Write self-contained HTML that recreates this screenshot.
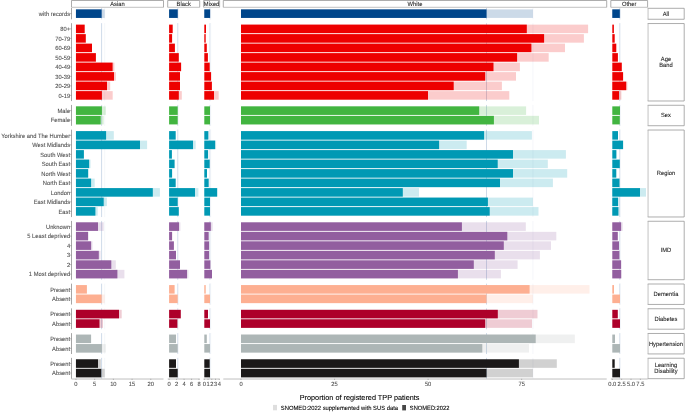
<!DOCTYPE html>
<html><head><meta charset="utf-8"><style>
html,body{margin:0;padding:0;background:#fff;}
svg{display:block;text-rendering:geometricPrecision;}
text{font-family:"Liberation Sans",Arial,sans-serif;fill:#4D4D4D;stroke:#4D4D4D;stroke-width:0.8px;}
</style></head><body>
<svg width="685" height="412" viewBox="0 0 685 412">
<rect width="685" height="412" fill="#fff"/>
<line x1="101.6" y1="7.95" x2="101.6" y2="19.35" stroke="#C2D0E2" stroke-width="0.8"/>
<line x1="104.7" y1="7.95" x2="104.7" y2="19.35" stroke="#F2F5F9" stroke-width="0.8"/>
<rect x="75.95" y="9.38" width="28.75" height="8.55" fill="#00468B" fill-opacity="0.2"/>
<rect x="75.95" y="9.38" width="25.65" height="8.55" fill="#00468B"/>
<line x1="101.6" y1="23.19" x2="101.6" y2="101.09" stroke="#C2D0E2" stroke-width="0.8"/>
<line x1="104.7" y1="23.19" x2="104.7" y2="101.09" stroke="#F2F5F9" stroke-width="0.8"/>
<rect x="75.95" y="24.62" width="8.75" height="8.55" fill="#ED0000"/>
<rect x="75.95" y="34.12" width="9.85" height="8.55" fill="#ED0000"/>
<rect x="75.95" y="43.62" width="16.05" height="8.55" fill="#ED0000"/>
<rect x="75.95" y="53.12" width="19.95" height="8.55" fill="#ED0000"/>
<rect x="75.95" y="62.62" width="38.45" height="8.55" fill="#ED0000" fill-opacity="0.2"/>
<rect x="75.95" y="62.62" width="36.65" height="8.55" fill="#ED0000"/>
<rect x="75.95" y="72.12" width="39.95" height="8.55" fill="#ED0000" fill-opacity="0.2"/>
<rect x="75.95" y="72.12" width="38.05" height="8.55" fill="#ED0000"/>
<rect x="75.95" y="81.62" width="34.25" height="8.55" fill="#ED0000" fill-opacity="0.2"/>
<rect x="75.95" y="81.62" width="31.05" height="8.55" fill="#ED0000"/>
<rect x="75.95" y="91.12" width="36.75" height="8.55" fill="#ED0000" fill-opacity="0.2"/>
<rect x="75.95" y="91.12" width="25.95" height="8.55" fill="#ED0000"/>
<line x1="101.6" y1="104.93" x2="101.6" y2="125.83" stroke="#C2D0E2" stroke-width="0.8"/>
<line x1="104.7" y1="104.93" x2="104.7" y2="125.83" stroke="#F2F5F9" stroke-width="0.8"/>
<rect x="75.95" y="106.36" width="29.85" height="8.55" fill="#42B540" fill-opacity="0.2"/>
<rect x="75.95" y="106.36" width="25.95" height="8.55" fill="#42B540"/>
<rect x="75.95" y="115.86" width="27.75" height="8.55" fill="#42B540" fill-opacity="0.2"/>
<rect x="75.95" y="115.86" width="24.75" height="8.55" fill="#42B540"/>
<line x1="101.6" y1="129.67" x2="101.6" y2="217.07" stroke="#C2D0E2" stroke-width="0.8"/>
<line x1="104.7" y1="129.67" x2="104.7" y2="217.07" stroke="#F2F5F9" stroke-width="0.8"/>
<rect x="75.95" y="131.10" width="37.85" height="8.55" fill="#0099B4" fill-opacity="0.2"/>
<rect x="75.95" y="131.10" width="30.15" height="8.55" fill="#0099B4"/>
<rect x="75.95" y="140.60" width="71.15" height="8.55" fill="#0099B4" fill-opacity="0.2"/>
<rect x="75.95" y="140.60" width="64.05" height="8.55" fill="#0099B4"/>
<rect x="75.95" y="150.10" width="7.95" height="8.55" fill="#0099B4"/>
<rect x="75.95" y="159.60" width="14.55" height="8.55" fill="#0099B4" fill-opacity="0.2"/>
<rect x="75.95" y="159.60" width="13.15" height="8.55" fill="#0099B4"/>
<rect x="75.95" y="169.10" width="13.05" height="8.55" fill="#0099B4" fill-opacity="0.2"/>
<rect x="75.95" y="169.10" width="12.05" height="8.55" fill="#0099B4"/>
<rect x="75.95" y="178.60" width="18.75" height="8.55" fill="#0099B4" fill-opacity="0.2"/>
<rect x="75.95" y="178.60" width="15.15" height="8.55" fill="#0099B4"/>
<rect x="75.95" y="188.10" width="83.95" height="8.55" fill="#0099B4" fill-opacity="0.2"/>
<rect x="75.95" y="188.10" width="76.85" height="8.55" fill="#0099B4"/>
<rect x="75.95" y="197.60" width="30.95" height="8.55" fill="#0099B4" fill-opacity="0.2"/>
<rect x="75.95" y="197.60" width="27.75" height="8.55" fill="#0099B4"/>
<rect x="75.95" y="207.10" width="21.75" height="8.55" fill="#0099B4" fill-opacity="0.2"/>
<rect x="75.95" y="207.10" width="19.45" height="8.55" fill="#0099B4"/>
<line x1="101.6" y1="220.91" x2="101.6" y2="279.81" stroke="#C2D0E2" stroke-width="0.8"/>
<line x1="104.7" y1="220.91" x2="104.7" y2="279.81" stroke="#F2F5F9" stroke-width="0.8"/>
<rect x="75.95" y="222.33" width="27.75" height="8.55" fill="#925E9F" fill-opacity="0.2"/>
<rect x="75.95" y="222.33" width="22.05" height="8.55" fill="#925E9F"/>
<rect x="75.95" y="231.83" width="12.75" height="8.55" fill="#925E9F" fill-opacity="0.2"/>
<rect x="75.95" y="231.83" width="12.05" height="8.55" fill="#925E9F"/>
<rect x="75.95" y="241.33" width="16.55" height="8.55" fill="#925E9F" fill-opacity="0.2"/>
<rect x="75.95" y="241.33" width="15.15" height="8.55" fill="#925E9F"/>
<rect x="75.95" y="250.83" width="24.55" height="8.55" fill="#925E9F" fill-opacity="0.2"/>
<rect x="75.95" y="250.83" width="22.85" height="8.55" fill="#925E9F"/>
<rect x="75.95" y="260.33" width="39.85" height="8.55" fill="#925E9F" fill-opacity="0.2"/>
<rect x="75.95" y="260.33" width="35.35" height="8.55" fill="#925E9F"/>
<rect x="75.95" y="269.83" width="48.45" height="8.55" fill="#925E9F" fill-opacity="0.2"/>
<rect x="75.95" y="269.83" width="41.45" height="8.55" fill="#925E9F"/>
<line x1="101.6" y1="283.65" x2="101.6" y2="304.55" stroke="#C2D0E2" stroke-width="0.8"/>
<line x1="104.7" y1="283.65" x2="104.7" y2="304.55" stroke="#F2F5F9" stroke-width="0.8"/>
<rect x="75.95" y="285.07" width="10.95" height="8.55" fill="#FDAF91"/>
<rect x="75.95" y="294.57" width="28.75" height="8.55" fill="#FDAF91" fill-opacity="0.2"/>
<rect x="75.95" y="294.57" width="25.65" height="8.55" fill="#FDAF91"/>
<line x1="101.6" y1="308.39" x2="101.6" y2="329.29" stroke="#C2D0E2" stroke-width="0.8"/>
<line x1="104.7" y1="308.39" x2="104.7" y2="329.29" stroke="#F2F5F9" stroke-width="0.8"/>
<rect x="75.95" y="309.81" width="45.75" height="8.55" fill="#AD002A" fill-opacity="0.2"/>
<rect x="75.95" y="309.81" width="43.05" height="8.55" fill="#AD002A"/>
<rect x="75.95" y="319.31" width="27.05" height="8.55" fill="#AD002A" fill-opacity="0.2"/>
<rect x="75.95" y="319.31" width="23.55" height="8.55" fill="#AD002A"/>
<line x1="101.6" y1="333.13" x2="101.6" y2="354.03" stroke="#C2D0E2" stroke-width="0.8"/>
<line x1="104.7" y1="333.13" x2="104.7" y2="354.03" stroke="#F2F5F9" stroke-width="0.8"/>
<rect x="75.95" y="334.55" width="15.15" height="8.55" fill="#ADB6B6"/>
<rect x="75.95" y="344.05" width="29.85" height="8.55" fill="#ADB6B6" fill-opacity="0.2"/>
<rect x="75.95" y="344.05" width="25.95" height="8.55" fill="#ADB6B6"/>
<line x1="101.6" y1="357.87" x2="101.6" y2="378.77" stroke="#C2D0E2" stroke-width="0.8"/>
<line x1="104.7" y1="357.87" x2="104.7" y2="378.77" stroke="#F2F5F9" stroke-width="0.8"/>
<rect x="75.95" y="359.29" width="24.85" height="8.55" fill="#1B1919" fill-opacity="0.2"/>
<rect x="75.95" y="359.29" width="22.05" height="8.55" fill="#1B1919"/>
<rect x="75.95" y="368.79" width="28.75" height="8.55" fill="#1B1919" fill-opacity="0.2"/>
<rect x="75.95" y="368.79" width="25.25" height="8.55" fill="#1B1919"/>
<line x1="177.7" y1="7.95" x2="177.7" y2="19.35" stroke="#C2D0E2" stroke-width="0.8"/>
<line x1="178.1" y1="7.95" x2="178.1" y2="19.35" stroke="#F2F5F9" stroke-width="0.8"/>
<rect x="169.1" y="9.38" width="9.00" height="8.55" fill="#00468B" fill-opacity="0.2"/>
<rect x="169.1" y="9.38" width="8.60" height="8.55" fill="#00468B"/>
<line x1="177.7" y1="23.19" x2="177.7" y2="101.09" stroke="#C2D0E2" stroke-width="0.8"/>
<line x1="178.1" y1="23.19" x2="178.1" y2="101.09" stroke="#F2F5F9" stroke-width="0.8"/>
<rect x="169.1" y="24.62" width="3.60" height="8.55" fill="#ED0000"/>
<rect x="169.1" y="34.12" width="3.00" height="8.55" fill="#ED0000"/>
<rect x="169.1" y="43.62" width="5.80" height="8.55" fill="#ED0000"/>
<rect x="169.1" y="53.12" width="9.70" height="8.55" fill="#ED0000"/>
<rect x="169.1" y="62.62" width="12.50" height="8.55" fill="#ED0000" fill-opacity="0.2"/>
<rect x="169.1" y="62.62" width="11.90" height="8.55" fill="#ED0000"/>
<rect x="169.1" y="72.12" width="10.90" height="8.55" fill="#ED0000"/>
<rect x="169.1" y="81.62" width="10.90" height="8.55" fill="#ED0000"/>
<rect x="169.1" y="91.12" width="12.70" height="8.55" fill="#ED0000" fill-opacity="0.2"/>
<rect x="169.1" y="91.12" width="9.70" height="8.55" fill="#ED0000"/>
<line x1="177.7" y1="104.93" x2="177.7" y2="125.83" stroke="#C2D0E2" stroke-width="0.8"/>
<line x1="178.1" y1="104.93" x2="178.1" y2="125.83" stroke="#F2F5F9" stroke-width="0.8"/>
<rect x="169.1" y="106.36" width="8.60" height="8.55" fill="#42B540"/>
<rect x="169.1" y="115.86" width="8.60" height="8.55" fill="#42B540"/>
<line x1="177.7" y1="129.67" x2="177.7" y2="217.07" stroke="#C2D0E2" stroke-width="0.8"/>
<line x1="178.1" y1="129.67" x2="178.1" y2="217.07" stroke="#F2F5F9" stroke-width="0.8"/>
<rect x="169.1" y="131.10" width="6.60" height="8.55" fill="#0099B4"/>
<rect x="169.1" y="140.60" width="26.60" height="8.55" fill="#0099B4" fill-opacity="0.2"/>
<rect x="169.1" y="140.60" width="23.90" height="8.55" fill="#0099B4"/>
<rect x="169.1" y="150.10" width="2.80" height="8.55" fill="#0099B4"/>
<rect x="169.1" y="159.60" width="5.50" height="8.55" fill="#0099B4"/>
<rect x="169.1" y="169.10" width="3.00" height="8.55" fill="#0099B4"/>
<rect x="169.1" y="178.60" width="6.60" height="8.55" fill="#0099B4"/>
<rect x="169.1" y="188.10" width="29.30" height="8.55" fill="#0099B4" fill-opacity="0.2"/>
<rect x="169.1" y="188.10" width="25.90" height="8.55" fill="#0099B4"/>
<rect x="169.1" y="197.60" width="8.60" height="8.55" fill="#0099B4"/>
<rect x="169.1" y="207.10" width="9.70" height="8.55" fill="#0099B4"/>
<line x1="177.7" y1="220.91" x2="177.7" y2="279.81" stroke="#C2D0E2" stroke-width="0.8"/>
<line x1="178.1" y1="220.91" x2="178.1" y2="279.81" stroke="#F2F5F9" stroke-width="0.8"/>
<rect x="169.1" y="222.33" width="11.30" height="8.55" fill="#925E9F" fill-opacity="0.2"/>
<rect x="169.1" y="222.33" width="9.90" height="8.55" fill="#925E9F"/>
<rect x="169.1" y="231.83" width="3.00" height="8.55" fill="#925E9F"/>
<rect x="169.1" y="241.33" width="4.80" height="8.55" fill="#925E9F"/>
<rect x="169.1" y="250.83" width="6.90" height="8.55" fill="#925E9F"/>
<rect x="169.1" y="260.33" width="10.90" height="8.55" fill="#925E9F"/>
<rect x="169.1" y="269.83" width="19.30" height="8.55" fill="#925E9F" fill-opacity="0.2"/>
<rect x="169.1" y="269.83" width="17.90" height="8.55" fill="#925E9F"/>
<line x1="177.7" y1="283.65" x2="177.7" y2="304.55" stroke="#C2D0E2" stroke-width="0.8"/>
<line x1="178.1" y1="283.65" x2="178.1" y2="304.55" stroke="#F2F5F9" stroke-width="0.8"/>
<rect x="169.1" y="285.07" width="5.50" height="8.55" fill="#FDAF91"/>
<rect x="169.1" y="294.57" width="8.60" height="8.55" fill="#FDAF91"/>
<line x1="177.7" y1="308.39" x2="177.7" y2="329.29" stroke="#C2D0E2" stroke-width="0.8"/>
<line x1="178.1" y1="308.39" x2="178.1" y2="329.29" stroke="#F2F5F9" stroke-width="0.8"/>
<rect x="169.1" y="309.81" width="11.70" height="8.55" fill="#AD002A"/>
<rect x="169.1" y="319.31" width="8.30" height="8.55" fill="#AD002A"/>
<line x1="177.7" y1="333.13" x2="177.7" y2="354.03" stroke="#C2D0E2" stroke-width="0.8"/>
<line x1="178.1" y1="333.13" x2="178.1" y2="354.03" stroke="#F2F5F9" stroke-width="0.8"/>
<rect x="169.1" y="334.55" width="6.90" height="8.55" fill="#ADB6B6"/>
<rect x="169.1" y="344.05" width="8.60" height="8.55" fill="#ADB6B6"/>
<line x1="177.7" y1="357.87" x2="177.7" y2="378.77" stroke="#C2D0E2" stroke-width="0.8"/>
<line x1="178.1" y1="357.87" x2="178.1" y2="378.77" stroke="#F2F5F9" stroke-width="0.8"/>
<rect x="169.1" y="359.29" width="6.90" height="8.55" fill="#1B1919"/>
<rect x="169.1" y="368.79" width="8.60" height="8.55" fill="#1B1919"/>
<line x1="210" y1="7.95" x2="210" y2="19.35" stroke="#C2D0E2" stroke-width="0.8"/>
<line x1="210.7" y1="7.95" x2="210.7" y2="19.35" stroke="#F2F5F9" stroke-width="0.8"/>
<rect x="204.3" y="9.38" width="6.40" height="8.55" fill="#00468B" fill-opacity="0.2"/>
<rect x="204.3" y="9.38" width="5.70" height="8.55" fill="#00468B"/>
<line x1="210" y1="23.19" x2="210" y2="101.09" stroke="#C2D0E2" stroke-width="0.8"/>
<line x1="210.7" y1="23.19" x2="210.7" y2="101.09" stroke="#F2F5F9" stroke-width="0.8"/>
<rect x="204.3" y="24.62" width="1.70" height="8.55" fill="#ED0000"/>
<rect x="204.3" y="34.12" width="1.40" height="8.55" fill="#ED0000"/>
<rect x="204.3" y="43.62" width="2.50" height="8.55" fill="#ED0000"/>
<rect x="204.3" y="53.12" width="3.60" height="8.55" fill="#ED0000"/>
<rect x="204.3" y="62.62" width="5.40" height="8.55" fill="#ED0000"/>
<rect x="204.3" y="72.12" width="6.80" height="8.55" fill="#ED0000"/>
<rect x="204.3" y="81.62" width="7.60" height="8.55" fill="#ED0000"/>
<rect x="204.3" y="91.12" width="14.40" height="8.55" fill="#ED0000" fill-opacity="0.2"/>
<rect x="204.3" y="91.12" width="9.70" height="8.55" fill="#ED0000"/>
<line x1="210" y1="104.93" x2="210" y2="125.83" stroke="#C2D0E2" stroke-width="0.8"/>
<line x1="210.7" y1="104.93" x2="210.7" y2="125.83" stroke="#F2F5F9" stroke-width="0.8"/>
<rect x="204.3" y="106.36" width="5.70" height="8.55" fill="#42B540"/>
<rect x="204.3" y="115.86" width="5.70" height="8.55" fill="#42B540"/>
<line x1="210" y1="129.67" x2="210" y2="217.07" stroke="#C2D0E2" stroke-width="0.8"/>
<line x1="210.7" y1="129.67" x2="210.7" y2="217.07" stroke="#F2F5F9" stroke-width="0.8"/>
<rect x="204.3" y="131.10" width="4.10" height="8.55" fill="#0099B4"/>
<rect x="204.3" y="140.60" width="11.80" height="8.55" fill="#0099B4" fill-opacity="0.2"/>
<rect x="204.3" y="140.60" width="10.80" height="8.55" fill="#0099B4"/>
<rect x="204.3" y="150.10" width="3.80" height="8.55" fill="#0099B4"/>
<rect x="204.3" y="159.60" width="5.40" height="8.55" fill="#0099B4"/>
<rect x="204.3" y="169.10" width="2.70" height="8.55" fill="#0099B4"/>
<rect x="204.3" y="178.60" width="4.40" height="8.55" fill="#0099B4"/>
<rect x="204.3" y="188.10" width="13.70" height="8.55" fill="#0099B4" fill-opacity="0.2"/>
<rect x="204.3" y="188.10" width="12.70" height="8.55" fill="#0099B4"/>
<rect x="204.3" y="197.60" width="5.70" height="8.55" fill="#0099B4"/>
<rect x="204.3" y="207.10" width="5.70" height="8.55" fill="#0099B4"/>
<line x1="210" y1="220.91" x2="210" y2="279.81" stroke="#C2D0E2" stroke-width="0.8"/>
<line x1="210.7" y1="220.91" x2="210.7" y2="279.81" stroke="#F2F5F9" stroke-width="0.8"/>
<rect x="204.3" y="222.33" width="8.40" height="8.55" fill="#925E9F" fill-opacity="0.2"/>
<rect x="204.3" y="222.33" width="6.50" height="8.55" fill="#925E9F"/>
<rect x="204.3" y="231.83" width="4.40" height="8.55" fill="#925E9F"/>
<rect x="204.3" y="241.33" width="4.80" height="8.55" fill="#925E9F"/>
<rect x="204.3" y="250.83" width="4.80" height="8.55" fill="#925E9F"/>
<rect x="204.3" y="260.33" width="6.10" height="8.55" fill="#925E9F"/>
<rect x="204.3" y="269.83" width="7.70" height="8.55" fill="#925E9F"/>
<line x1="210" y1="283.65" x2="210" y2="304.55" stroke="#C2D0E2" stroke-width="0.8"/>
<line x1="210.7" y1="283.65" x2="210.7" y2="304.55" stroke="#F2F5F9" stroke-width="0.8"/>
<rect x="204.3" y="285.07" width="1.40" height="8.55" fill="#FDAF91"/>
<rect x="204.3" y="294.57" width="5.70" height="8.55" fill="#FDAF91"/>
<line x1="210" y1="308.39" x2="210" y2="329.29" stroke="#C2D0E2" stroke-width="0.8"/>
<line x1="210.7" y1="308.39" x2="210.7" y2="329.29" stroke="#F2F5F9" stroke-width="0.8"/>
<rect x="204.3" y="309.81" width="3.70" height="8.55" fill="#AD002A"/>
<rect x="204.3" y="319.31" width="5.70" height="8.55" fill="#AD002A"/>
<line x1="210" y1="333.13" x2="210" y2="354.03" stroke="#C2D0E2" stroke-width="0.8"/>
<line x1="210.7" y1="333.13" x2="210.7" y2="354.03" stroke="#F2F5F9" stroke-width="0.8"/>
<rect x="204.3" y="334.55" width="2.50" height="8.55" fill="#ADB6B6"/>
<rect x="204.3" y="344.05" width="5.70" height="8.55" fill="#ADB6B6"/>
<line x1="210" y1="357.87" x2="210" y2="378.77" stroke="#C2D0E2" stroke-width="0.8"/>
<line x1="210.7" y1="357.87" x2="210.7" y2="378.77" stroke="#F2F5F9" stroke-width="0.8"/>
<rect x="204.3" y="359.29" width="5.40" height="8.55" fill="#1B1919"/>
<rect x="204.3" y="368.79" width="5.70" height="8.55" fill="#1B1919"/>
<line x1="486.5" y1="7.95" x2="486.5" y2="19.35" stroke="#C2D0E2" stroke-width="0.8"/>
<line x1="532.9" y1="7.95" x2="532.9" y2="19.35" stroke="#F2F5F9" stroke-width="0.8"/>
<rect x="241.0" y="9.38" width="291.90" height="8.55" fill="#00468B" fill-opacity="0.2"/>
<rect x="241.0" y="9.38" width="245.50" height="8.55" fill="#00468B"/>
<line x1="486.5" y1="23.19" x2="486.5" y2="101.09" stroke="#C2D0E2" stroke-width="0.8"/>
<line x1="532.9" y1="23.19" x2="532.9" y2="101.09" stroke="#F2F5F9" stroke-width="0.8"/>
<rect x="241.0" y="24.62" width="347.10" height="8.55" fill="#ED0000" fill-opacity="0.2"/>
<rect x="241.0" y="24.62" width="285.80" height="8.55" fill="#ED0000"/>
<rect x="241.0" y="34.12" width="342.90" height="8.55" fill="#ED0000" fill-opacity="0.2"/>
<rect x="241.0" y="34.12" width="303.10" height="8.55" fill="#ED0000"/>
<rect x="241.0" y="43.62" width="324.00" height="8.55" fill="#ED0000" fill-opacity="0.2"/>
<rect x="241.0" y="43.62" width="290.40" height="8.55" fill="#ED0000"/>
<rect x="241.0" y="53.12" width="307.70" height="8.55" fill="#ED0000" fill-opacity="0.2"/>
<rect x="241.0" y="53.12" width="276.10" height="8.55" fill="#ED0000"/>
<rect x="241.0" y="62.62" width="278.90" height="8.55" fill="#ED0000" fill-opacity="0.2"/>
<rect x="241.0" y="62.62" width="252.50" height="8.55" fill="#ED0000"/>
<rect x="241.0" y="72.12" width="275.00" height="8.55" fill="#ED0000" fill-opacity="0.2"/>
<rect x="241.0" y="72.12" width="244.20" height="8.55" fill="#ED0000"/>
<rect x="241.0" y="81.62" width="260.90" height="8.55" fill="#ED0000" fill-opacity="0.2"/>
<rect x="241.0" y="81.62" width="212.70" height="8.55" fill="#ED0000"/>
<rect x="241.0" y="91.12" width="268.30" height="8.55" fill="#ED0000" fill-opacity="0.2"/>
<rect x="241.0" y="91.12" width="187.00" height="8.55" fill="#ED0000"/>
<line x1="486.5" y1="104.93" x2="486.5" y2="125.83" stroke="#C2D0E2" stroke-width="0.8"/>
<line x1="532.9" y1="104.93" x2="532.9" y2="125.83" stroke="#F2F5F9" stroke-width="0.8"/>
<rect x="241.0" y="106.36" width="285.10" height="8.55" fill="#42B540" fill-opacity="0.2"/>
<rect x="241.0" y="106.36" width="238.20" height="8.55" fill="#42B540"/>
<rect x="241.0" y="115.86" width="298.00" height="8.55" fill="#42B540" fill-opacity="0.2"/>
<rect x="241.0" y="115.86" width="252.90" height="8.55" fill="#42B540"/>
<line x1="486.5" y1="129.67" x2="486.5" y2="217.07" stroke="#C2D0E2" stroke-width="0.8"/>
<line x1="532.9" y1="129.67" x2="532.9" y2="217.07" stroke="#F2F5F9" stroke-width="0.8"/>
<rect x="241.0" y="131.10" width="290.90" height="8.55" fill="#0099B4" fill-opacity="0.2"/>
<rect x="241.0" y="131.10" width="243.10" height="8.55" fill="#0099B4"/>
<rect x="241.0" y="140.60" width="225.70" height="8.55" fill="#0099B4" fill-opacity="0.2"/>
<rect x="241.0" y="140.60" width="198.10" height="8.55" fill="#0099B4"/>
<rect x="241.0" y="150.10" width="324.90" height="8.55" fill="#0099B4" fill-opacity="0.2"/>
<rect x="241.0" y="150.10" width="272.00" height="8.55" fill="#0099B4"/>
<rect x="241.0" y="159.60" width="306.80" height="8.55" fill="#0099B4" fill-opacity="0.2"/>
<rect x="241.0" y="159.60" width="256.70" height="8.55" fill="#0099B4"/>
<rect x="241.0" y="169.10" width="326.20" height="8.55" fill="#0099B4" fill-opacity="0.2"/>
<rect x="241.0" y="169.10" width="272.00" height="8.55" fill="#0099B4"/>
<rect x="241.0" y="178.60" width="311.90" height="8.55" fill="#0099B4" fill-opacity="0.2"/>
<rect x="241.0" y="178.60" width="259.00" height="8.55" fill="#0099B4"/>
<rect x="241.0" y="188.10" width="178.00" height="8.55" fill="#0099B4" fill-opacity="0.2"/>
<rect x="241.0" y="188.10" width="161.80" height="8.55" fill="#0099B4"/>
<rect x="241.0" y="197.60" width="291.90" height="8.55" fill="#0099B4" fill-opacity="0.2"/>
<rect x="241.0" y="197.60" width="246.90" height="8.55" fill="#0099B4"/>
<rect x="241.0" y="207.10" width="297.50" height="8.55" fill="#0099B4" fill-opacity="0.2"/>
<rect x="241.0" y="207.10" width="248.70" height="8.55" fill="#0099B4"/>
<line x1="486.5" y1="220.91" x2="486.5" y2="279.81" stroke="#C2D0E2" stroke-width="0.8"/>
<line x1="532.9" y1="220.91" x2="532.9" y2="279.81" stroke="#F2F5F9" stroke-width="0.8"/>
<rect x="241.0" y="222.33" width="284.80" height="8.55" fill="#925E9F" fill-opacity="0.2"/>
<rect x="241.0" y="222.33" width="220.90" height="8.55" fill="#925E9F"/>
<rect x="241.0" y="231.83" width="315.30" height="8.55" fill="#925E9F" fill-opacity="0.2"/>
<rect x="241.0" y="231.83" width="266.30" height="8.55" fill="#925E9F"/>
<rect x="241.0" y="241.33" width="310.00" height="8.55" fill="#925E9F" fill-opacity="0.2"/>
<rect x="241.0" y="241.33" width="262.80" height="8.55" fill="#925E9F"/>
<rect x="241.0" y="250.83" width="298.90" height="8.55" fill="#925E9F" fill-opacity="0.2"/>
<rect x="241.0" y="250.83" width="253.80" height="8.55" fill="#925E9F"/>
<rect x="241.0" y="260.33" width="276.60" height="8.55" fill="#925E9F" fill-opacity="0.2"/>
<rect x="241.0" y="260.33" width="232.80" height="8.55" fill="#925E9F"/>
<rect x="241.0" y="269.83" width="259.90" height="8.55" fill="#925E9F" fill-opacity="0.2"/>
<rect x="241.0" y="269.83" width="216.90" height="8.55" fill="#925E9F"/>
<line x1="486.5" y1="283.65" x2="486.5" y2="304.55" stroke="#C2D0E2" stroke-width="0.8"/>
<line x1="532.9" y1="283.65" x2="532.9" y2="304.55" stroke="#F2F5F9" stroke-width="0.8"/>
<rect x="241.0" y="285.07" width="348.50" height="8.55" fill="#FDAF91" fill-opacity="0.2"/>
<rect x="241.0" y="285.07" width="288.60" height="8.55" fill="#FDAF91"/>
<rect x="241.0" y="294.57" width="291.90" height="8.55" fill="#FDAF91" fill-opacity="0.2"/>
<rect x="241.0" y="294.57" width="245.50" height="8.55" fill="#FDAF91"/>
<line x1="486.5" y1="308.39" x2="486.5" y2="329.29" stroke="#C2D0E2" stroke-width="0.8"/>
<line x1="532.9" y1="308.39" x2="532.9" y2="329.29" stroke="#F2F5F9" stroke-width="0.8"/>
<rect x="241.0" y="309.81" width="296.50" height="8.55" fill="#AD002A" fill-opacity="0.2"/>
<rect x="241.0" y="309.81" width="256.80" height="8.55" fill="#AD002A"/>
<rect x="241.0" y="319.31" width="291.00" height="8.55" fill="#AD002A" fill-opacity="0.2"/>
<rect x="241.0" y="319.31" width="244.20" height="8.55" fill="#AD002A"/>
<line x1="486.5" y1="333.13" x2="486.5" y2="354.03" stroke="#C2D0E2" stroke-width="0.8"/>
<line x1="532.9" y1="333.13" x2="532.9" y2="354.03" stroke="#F2F5F9" stroke-width="0.8"/>
<rect x="241.0" y="334.55" width="333.80" height="8.55" fill="#ADB6B6" fill-opacity="0.2"/>
<rect x="241.0" y="334.55" width="294.70" height="8.55" fill="#ADB6B6"/>
<rect x="241.0" y="344.05" width="288.00" height="8.55" fill="#ADB6B6" fill-opacity="0.2"/>
<rect x="241.0" y="344.05" width="241.30" height="8.55" fill="#ADB6B6"/>
<line x1="486.5" y1="357.87" x2="486.5" y2="378.77" stroke="#C2D0E2" stroke-width="0.8"/>
<line x1="532.9" y1="357.87" x2="532.9" y2="378.77" stroke="#F2F5F9" stroke-width="0.8"/>
<rect x="241.0" y="359.29" width="315.80" height="8.55" fill="#1B1919" fill-opacity="0.2"/>
<rect x="241.0" y="359.29" width="277.90" height="8.55" fill="#1B1919"/>
<rect x="241.0" y="368.79" width="291.90" height="8.55" fill="#1B1919" fill-opacity="0.2"/>
<rect x="241.0" y="368.79" width="245.50" height="8.55" fill="#1B1919"/>
<line x1="619.8" y1="7.95" x2="619.8" y2="19.35" stroke="#C2D0E2" stroke-width="0.8"/>
<line x1="620.3" y1="7.95" x2="620.3" y2="19.35" stroke="#F2F5F9" stroke-width="0.8"/>
<rect x="612.3" y="9.38" width="8.00" height="8.55" fill="#00468B" fill-opacity="0.2"/>
<rect x="612.3" y="9.38" width="7.50" height="8.55" fill="#00468B"/>
<line x1="619.8" y1="23.19" x2="619.8" y2="101.09" stroke="#C2D0E2" stroke-width="0.8"/>
<line x1="620.3" y1="23.19" x2="620.3" y2="101.09" stroke="#F2F5F9" stroke-width="0.8"/>
<rect x="612.3" y="24.62" width="1.60" height="8.55" fill="#ED0000"/>
<rect x="612.3" y="34.12" width="2.40" height="8.55" fill="#ED0000"/>
<rect x="612.3" y="43.62" width="4.00" height="8.55" fill="#ED0000"/>
<rect x="612.3" y="53.12" width="5.60" height="8.55" fill="#ED0000"/>
<rect x="612.3" y="62.62" width="9.50" height="8.55" fill="#ED0000"/>
<rect x="612.3" y="72.12" width="10.80" height="8.55" fill="#ED0000"/>
<rect x="612.3" y="81.62" width="15.10" height="8.55" fill="#ED0000" fill-opacity="0.2"/>
<rect x="612.3" y="81.62" width="13.90" height="8.55" fill="#ED0000"/>
<rect x="612.3" y="91.12" width="9.10" height="8.55" fill="#ED0000" fill-opacity="0.2"/>
<rect x="612.3" y="91.12" width="6.70" height="8.55" fill="#ED0000"/>
<line x1="619.8" y1="104.93" x2="619.8" y2="125.83" stroke="#C2D0E2" stroke-width="0.8"/>
<line x1="620.3" y1="104.93" x2="620.3" y2="125.83" stroke="#F2F5F9" stroke-width="0.8"/>
<rect x="612.3" y="106.36" width="7.70" height="8.55" fill="#42B540"/>
<rect x="612.3" y="115.86" width="7.50" height="8.55" fill="#42B540"/>
<line x1="619.8" y1="129.67" x2="619.8" y2="217.07" stroke="#C2D0E2" stroke-width="0.8"/>
<line x1="620.3" y1="129.67" x2="620.3" y2="217.07" stroke="#F2F5F9" stroke-width="0.8"/>
<rect x="612.3" y="131.10" width="5.70" height="8.55" fill="#0099B4"/>
<rect x="612.3" y="140.60" width="10.80" height="8.55" fill="#0099B4"/>
<rect x="612.3" y="150.10" width="4.10" height="8.55" fill="#0099B4"/>
<rect x="612.3" y="159.60" width="7.50" height="8.55" fill="#0099B4"/>
<rect x="612.3" y="169.10" width="4.00" height="8.55" fill="#0099B4"/>
<rect x="612.3" y="178.60" width="7.70" height="8.55" fill="#0099B4" fill-opacity="0.2"/>
<rect x="612.3" y="178.60" width="7.10" height="8.55" fill="#0099B4"/>
<rect x="612.3" y="188.10" width="33.70" height="8.55" fill="#0099B4" fill-opacity="0.2"/>
<rect x="612.3" y="188.10" width="27.70" height="8.55" fill="#0099B4"/>
<rect x="612.3" y="197.60" width="7.10" height="8.55" fill="#0099B4" fill-opacity="0.2"/>
<rect x="612.3" y="197.60" width="5.70" height="8.55" fill="#0099B4"/>
<rect x="612.3" y="207.10" width="7.10" height="8.55" fill="#0099B4" fill-opacity="0.2"/>
<rect x="612.3" y="207.10" width="6.10" height="8.55" fill="#0099B4"/>
<line x1="619.8" y1="220.91" x2="619.8" y2="279.81" stroke="#C2D0E2" stroke-width="0.8"/>
<line x1="620.3" y1="220.91" x2="620.3" y2="279.81" stroke="#F2F5F9" stroke-width="0.8"/>
<rect x="612.3" y="222.33" width="10.40" height="8.55" fill="#925E9F" fill-opacity="0.2"/>
<rect x="612.3" y="222.33" width="8.80" height="8.55" fill="#925E9F"/>
<rect x="612.3" y="231.83" width="5.50" height="8.55" fill="#925E9F"/>
<rect x="612.3" y="241.33" width="6.70" height="8.55" fill="#925E9F"/>
<rect x="612.3" y="250.83" width="7.10" height="8.55" fill="#925E9F"/>
<rect x="612.3" y="260.33" width="9.40" height="8.55" fill="#925E9F" fill-opacity="0.2"/>
<rect x="612.3" y="260.33" width="8.70" height="8.55" fill="#925E9F"/>
<rect x="612.3" y="269.83" width="9.50" height="8.55" fill="#925E9F" fill-opacity="0.2"/>
<rect x="612.3" y="269.83" width="8.80" height="8.55" fill="#925E9F"/>
<line x1="619.8" y1="283.65" x2="619.8" y2="304.55" stroke="#C2D0E2" stroke-width="0.8"/>
<line x1="620.3" y1="283.65" x2="620.3" y2="304.55" stroke="#F2F5F9" stroke-width="0.8"/>
<rect x="612.3" y="285.07" width="1.70" height="8.55" fill="#FDAF91"/>
<rect x="612.3" y="294.57" width="7.70" height="8.55" fill="#FDAF91"/>
<line x1="619.8" y1="308.39" x2="619.8" y2="329.29" stroke="#C2D0E2" stroke-width="0.8"/>
<line x1="620.3" y1="308.39" x2="620.3" y2="329.29" stroke="#F2F5F9" stroke-width="0.8"/>
<rect x="612.3" y="309.81" width="5.50" height="8.55" fill="#AD002A"/>
<rect x="612.3" y="319.31" width="7.70" height="8.55" fill="#AD002A"/>
<line x1="619.8" y1="333.13" x2="619.8" y2="354.03" stroke="#C2D0E2" stroke-width="0.8"/>
<line x1="620.3" y1="333.13" x2="620.3" y2="354.03" stroke="#F2F5F9" stroke-width="0.8"/>
<rect x="612.3" y="334.55" width="2.70" height="8.55" fill="#ADB6B6"/>
<rect x="612.3" y="344.05" width="7.70" height="8.55" fill="#ADB6B6"/>
<line x1="619.8" y1="357.87" x2="619.8" y2="378.77" stroke="#C2D0E2" stroke-width="0.8"/>
<line x1="620.3" y1="357.87" x2="620.3" y2="378.77" stroke="#F2F5F9" stroke-width="0.8"/>
<rect x="612.3" y="359.29" width="2.40" height="8.55" fill="#1B1919"/>
<rect x="612.3" y="368.79" width="7.70" height="8.55" fill="#1B1919"/>
<line x1="71.5" y1="7.95" x2="71.5" y2="19.35" stroke="#7f7f7f" stroke-width="0.7"/>
<line x1="69.7" y1="13.65" x2="71.5" y2="13.65" stroke="#7f7f7f" stroke-width="0.5"/>
<text transform="translate(70.10,15.83) scale(0.0950,0.1)" font-size="61.0" text-anchor="end">with records</text>
<line x1="71.5" y1="23.19" x2="71.5" y2="101.09" stroke="#7f7f7f" stroke-width="0.7"/>
<line x1="69.7" y1="28.89" x2="71.5" y2="28.89" stroke="#7f7f7f" stroke-width="0.5"/>
<text transform="translate(70.10,31.07) scale(0.0950,0.1)" font-size="61.0" text-anchor="end">80+</text>
<line x1="69.7" y1="38.39" x2="71.5" y2="38.39" stroke="#7f7f7f" stroke-width="0.5"/>
<text transform="translate(70.10,40.57) scale(0.0950,0.1)" font-size="61.0" text-anchor="end">70-79</text>
<line x1="69.7" y1="47.89" x2="71.5" y2="47.89" stroke="#7f7f7f" stroke-width="0.5"/>
<text transform="translate(70.10,50.07) scale(0.0950,0.1)" font-size="61.0" text-anchor="end">60-69</text>
<line x1="69.7" y1="57.39" x2="71.5" y2="57.39" stroke="#7f7f7f" stroke-width="0.5"/>
<text transform="translate(70.10,59.57) scale(0.0950,0.1)" font-size="61.0" text-anchor="end">50-59</text>
<line x1="69.7" y1="66.89" x2="71.5" y2="66.89" stroke="#7f7f7f" stroke-width="0.5"/>
<text transform="translate(70.10,69.07) scale(0.0950,0.1)" font-size="61.0" text-anchor="end">40-49</text>
<line x1="69.7" y1="76.39" x2="71.5" y2="76.39" stroke="#7f7f7f" stroke-width="0.5"/>
<text transform="translate(70.10,78.57) scale(0.0950,0.1)" font-size="61.0" text-anchor="end">30-39</text>
<line x1="69.7" y1="85.89" x2="71.5" y2="85.89" stroke="#7f7f7f" stroke-width="0.5"/>
<text transform="translate(70.10,88.07) scale(0.0950,0.1)" font-size="61.0" text-anchor="end">20-29</text>
<line x1="69.7" y1="95.39" x2="71.5" y2="95.39" stroke="#7f7f7f" stroke-width="0.5"/>
<text transform="translate(70.10,97.57) scale(0.0950,0.1)" font-size="61.0" text-anchor="end">0-19</text>
<line x1="71.5" y1="104.93" x2="71.5" y2="125.83" stroke="#7f7f7f" stroke-width="0.7"/>
<line x1="69.7" y1="110.63" x2="71.5" y2="110.63" stroke="#7f7f7f" stroke-width="0.5"/>
<text transform="translate(70.10,112.81) scale(0.0950,0.1)" font-size="61.0" text-anchor="end">Male</text>
<line x1="69.7" y1="120.13" x2="71.5" y2="120.13" stroke="#7f7f7f" stroke-width="0.5"/>
<text transform="translate(70.10,122.31) scale(0.0950,0.1)" font-size="61.0" text-anchor="end">Female</text>
<line x1="71.5" y1="129.67" x2="71.5" y2="217.07" stroke="#7f7f7f" stroke-width="0.7"/>
<line x1="69.7" y1="135.37" x2="71.5" y2="135.37" stroke="#7f7f7f" stroke-width="0.5"/>
<text transform="translate(70.10,137.55) scale(0.0950,0.1)" font-size="61.0" text-anchor="end">Yorkshire and The Humber</text>
<line x1="69.7" y1="144.87" x2="71.5" y2="144.87" stroke="#7f7f7f" stroke-width="0.5"/>
<text transform="translate(70.10,147.05) scale(0.0950,0.1)" font-size="61.0" text-anchor="end">West Midlands</text>
<line x1="69.7" y1="154.37" x2="71.5" y2="154.37" stroke="#7f7f7f" stroke-width="0.5"/>
<text transform="translate(70.10,156.55) scale(0.0950,0.1)" font-size="61.0" text-anchor="end">South West</text>
<line x1="69.7" y1="163.87" x2="71.5" y2="163.87" stroke="#7f7f7f" stroke-width="0.5"/>
<text transform="translate(70.10,166.05) scale(0.0950,0.1)" font-size="61.0" text-anchor="end">South East</text>
<line x1="69.7" y1="173.37" x2="71.5" y2="173.37" stroke="#7f7f7f" stroke-width="0.5"/>
<text transform="translate(70.10,175.55) scale(0.0950,0.1)" font-size="61.0" text-anchor="end">North West</text>
<line x1="69.7" y1="182.87" x2="71.5" y2="182.87" stroke="#7f7f7f" stroke-width="0.5"/>
<text transform="translate(70.10,185.05) scale(0.0950,0.1)" font-size="61.0" text-anchor="end">North East</text>
<line x1="69.7" y1="192.37" x2="71.5" y2="192.37" stroke="#7f7f7f" stroke-width="0.5"/>
<text transform="translate(70.10,194.55) scale(0.0950,0.1)" font-size="61.0" text-anchor="end">London</text>
<line x1="69.7" y1="201.87" x2="71.5" y2="201.87" stroke="#7f7f7f" stroke-width="0.5"/>
<text transform="translate(70.10,204.05) scale(0.0950,0.1)" font-size="61.0" text-anchor="end">East Midlands</text>
<line x1="69.7" y1="211.37" x2="71.5" y2="211.37" stroke="#7f7f7f" stroke-width="0.5"/>
<text transform="translate(70.10,213.55) scale(0.0950,0.1)" font-size="61.0" text-anchor="end">East</text>
<line x1="71.5" y1="220.91" x2="71.5" y2="279.81" stroke="#7f7f7f" stroke-width="0.7"/>
<line x1="69.7" y1="226.61" x2="71.5" y2="226.61" stroke="#7f7f7f" stroke-width="0.5"/>
<text transform="translate(70.10,228.79) scale(0.0950,0.1)" font-size="61.0" text-anchor="end">Unknown</text>
<line x1="69.7" y1="236.11" x2="71.5" y2="236.11" stroke="#7f7f7f" stroke-width="0.5"/>
<text transform="translate(70.10,238.29) scale(0.0950,0.1)" font-size="61.0" text-anchor="end">5 Least deprived</text>
<line x1="69.7" y1="245.61" x2="71.5" y2="245.61" stroke="#7f7f7f" stroke-width="0.5"/>
<text transform="translate(70.10,247.79) scale(0.0950,0.1)" font-size="61.0" text-anchor="end">4</text>
<line x1="69.7" y1="255.11" x2="71.5" y2="255.11" stroke="#7f7f7f" stroke-width="0.5"/>
<text transform="translate(70.10,257.29) scale(0.0950,0.1)" font-size="61.0" text-anchor="end">3</text>
<line x1="69.7" y1="264.61" x2="71.5" y2="264.61" stroke="#7f7f7f" stroke-width="0.5"/>
<text transform="translate(70.10,266.79) scale(0.0950,0.1)" font-size="61.0" text-anchor="end">2</text>
<line x1="69.7" y1="274.11" x2="71.5" y2="274.11" stroke="#7f7f7f" stroke-width="0.5"/>
<text transform="translate(70.10,276.29) scale(0.0950,0.1)" font-size="61.0" text-anchor="end">1 Most deprived</text>
<line x1="71.5" y1="283.65" x2="71.5" y2="304.55" stroke="#7f7f7f" stroke-width="0.7"/>
<line x1="69.7" y1="289.35" x2="71.5" y2="289.35" stroke="#7f7f7f" stroke-width="0.5"/>
<text transform="translate(70.10,291.53) scale(0.0950,0.1)" font-size="61.0" text-anchor="end">Present</text>
<line x1="69.7" y1="298.85" x2="71.5" y2="298.85" stroke="#7f7f7f" stroke-width="0.5"/>
<text transform="translate(70.10,301.03) scale(0.0950,0.1)" font-size="61.0" text-anchor="end">Absent</text>
<line x1="71.5" y1="308.39" x2="71.5" y2="329.29" stroke="#7f7f7f" stroke-width="0.7"/>
<line x1="69.7" y1="314.09" x2="71.5" y2="314.09" stroke="#7f7f7f" stroke-width="0.5"/>
<text transform="translate(70.10,316.27) scale(0.0950,0.1)" font-size="61.0" text-anchor="end">Present</text>
<line x1="69.7" y1="323.59" x2="71.5" y2="323.59" stroke="#7f7f7f" stroke-width="0.5"/>
<text transform="translate(70.10,325.77) scale(0.0950,0.1)" font-size="61.0" text-anchor="end">Absent</text>
<line x1="71.5" y1="333.13" x2="71.5" y2="354.03" stroke="#7f7f7f" stroke-width="0.7"/>
<line x1="69.7" y1="338.83" x2="71.5" y2="338.83" stroke="#7f7f7f" stroke-width="0.5"/>
<text transform="translate(70.10,341.01) scale(0.0950,0.1)" font-size="61.0" text-anchor="end">Present</text>
<line x1="69.7" y1="348.33" x2="71.5" y2="348.33" stroke="#7f7f7f" stroke-width="0.5"/>
<text transform="translate(70.10,350.51) scale(0.0950,0.1)" font-size="61.0" text-anchor="end">Absent</text>
<line x1="71.5" y1="357.87" x2="71.5" y2="378.77" stroke="#7f7f7f" stroke-width="0.7"/>
<line x1="69.7" y1="363.57" x2="71.5" y2="363.57" stroke="#7f7f7f" stroke-width="0.5"/>
<text transform="translate(70.10,365.75) scale(0.0950,0.1)" font-size="61.0" text-anchor="end">Present</text>
<line x1="69.7" y1="373.07" x2="71.5" y2="373.07" stroke="#7f7f7f" stroke-width="0.5"/>
<text transform="translate(70.10,375.25) scale(0.0950,0.1)" font-size="61.0" text-anchor="end">Absent</text>
<line x1="71.5" y1="379.02" x2="163.5" y2="379.02" stroke="#b8b8b8" stroke-width="0.9"/>
<line x1="75.95" y1="378.77" x2="75.95" y2="379.97" stroke="#7f7f7f" stroke-width="0.5"/>
<text transform="translate(75.95,385.72) scale(0.0950,0.1)" font-size="61.0" text-anchor="middle">0</text>
<line x1="94.66" y1="378.77" x2="94.66" y2="379.97" stroke="#7f7f7f" stroke-width="0.5"/>
<text transform="translate(94.66,385.72) scale(0.0950,0.1)" font-size="61.0" text-anchor="middle">5</text>
<line x1="113.37" y1="378.77" x2="113.37" y2="379.97" stroke="#7f7f7f" stroke-width="0.5"/>
<text transform="translate(113.37,385.72) scale(0.0950,0.1)" font-size="61.0" text-anchor="middle">10</text>
<line x1="132.08" y1="378.77" x2="132.08" y2="379.97" stroke="#7f7f7f" stroke-width="0.5"/>
<text transform="translate(132.08,385.72) scale(0.0950,0.1)" font-size="61.0" text-anchor="middle">15</text>
<line x1="150.79" y1="378.77" x2="150.79" y2="379.97" stroke="#7f7f7f" stroke-width="0.5"/>
<text transform="translate(150.79,385.72) scale(0.0950,0.1)" font-size="61.0" text-anchor="middle">20</text>
<line x1="167.7" y1="379.02" x2="199.7" y2="379.02" stroke="#b8b8b8" stroke-width="0.9"/>
<line x1="169.10" y1="378.77" x2="169.10" y2="379.97" stroke="#7f7f7f" stroke-width="0.5"/>
<text transform="translate(169.10,385.72) scale(0.0950,0.1)" font-size="61.0" text-anchor="middle">0</text>
<line x1="176.58" y1="378.77" x2="176.58" y2="379.97" stroke="#7f7f7f" stroke-width="0.5"/>
<text transform="translate(176.58,385.72) scale(0.0950,0.1)" font-size="61.0" text-anchor="middle">2</text>
<line x1="184.07" y1="378.77" x2="184.07" y2="379.97" stroke="#7f7f7f" stroke-width="0.5"/>
<text transform="translate(184.07,385.72) scale(0.0950,0.1)" font-size="61.0" text-anchor="middle">4</text>
<line x1="191.55" y1="378.77" x2="191.55" y2="379.97" stroke="#7f7f7f" stroke-width="0.5"/>
<text transform="translate(191.55,385.72) scale(0.0950,0.1)" font-size="61.0" text-anchor="middle">6</text>
<line x1="199.04" y1="378.77" x2="199.04" y2="379.97" stroke="#7f7f7f" stroke-width="0.5"/>
<text transform="translate(199.04,385.72) scale(0.0950,0.1)" font-size="61.0" text-anchor="middle">8</text>
<line x1="203.6" y1="379.02" x2="219.6" y2="379.02" stroke="#b8b8b8" stroke-width="0.9"/>
<line x1="204.30" y1="378.77" x2="204.30" y2="379.97" stroke="#7f7f7f" stroke-width="0.5"/>
<text transform="translate(204.30,385.72) scale(0.0950,0.1)" font-size="61.0" text-anchor="middle">0</text>
<line x1="208.04" y1="378.77" x2="208.04" y2="379.97" stroke="#7f7f7f" stroke-width="0.5"/>
<text transform="translate(208.04,385.72) scale(0.0950,0.1)" font-size="61.0" text-anchor="middle">1</text>
<line x1="211.78" y1="378.77" x2="211.78" y2="379.97" stroke="#7f7f7f" stroke-width="0.5"/>
<text transform="translate(211.78,385.72) scale(0.0950,0.1)" font-size="61.0" text-anchor="middle">2</text>
<line x1="215.53" y1="378.77" x2="215.53" y2="379.97" stroke="#7f7f7f" stroke-width="0.5"/>
<text transform="translate(215.53,385.72) scale(0.0950,0.1)" font-size="61.0" text-anchor="middle">3</text>
<line x1="219.27" y1="378.77" x2="219.27" y2="379.97" stroke="#7f7f7f" stroke-width="0.5"/>
<text transform="translate(219.27,385.72) scale(0.0950,0.1)" font-size="61.0" text-anchor="middle">4</text>
<line x1="223.3" y1="379.02" x2="606.7" y2="379.02" stroke="#b8b8b8" stroke-width="0.9"/>
<line x1="241.00" y1="378.77" x2="241.00" y2="379.97" stroke="#7f7f7f" stroke-width="0.5"/>
<text transform="translate(241.00,385.72) scale(0.0950,0.1)" font-size="61.0" text-anchor="middle">0</text>
<line x1="334.55" y1="378.77" x2="334.55" y2="379.97" stroke="#7f7f7f" stroke-width="0.5"/>
<text transform="translate(334.55,385.72) scale(0.0950,0.1)" font-size="61.0" text-anchor="middle">25</text>
<line x1="428.10" y1="378.77" x2="428.10" y2="379.97" stroke="#7f7f7f" stroke-width="0.5"/>
<text transform="translate(428.10,385.72) scale(0.0950,0.1)" font-size="61.0" text-anchor="middle">50</text>
<line x1="521.65" y1="378.77" x2="521.65" y2="379.97" stroke="#7f7f7f" stroke-width="0.5"/>
<text transform="translate(521.65,385.72) scale(0.0950,0.1)" font-size="61.0" text-anchor="middle">75</text>
<line x1="610.8" y1="379.02" x2="647.6" y2="379.02" stroke="#b8b8b8" stroke-width="0.9"/>
<line x1="612.30" y1="378.77" x2="612.30" y2="379.97" stroke="#7f7f7f" stroke-width="0.5"/>
<text transform="translate(612.30,385.72) scale(0.0950,0.1)" font-size="61.0" text-anchor="middle">0.0</text>
<line x1="621.65" y1="378.77" x2="621.65" y2="379.97" stroke="#7f7f7f" stroke-width="0.5"/>
<text transform="translate(621.65,385.72) scale(0.0950,0.1)" font-size="61.0" text-anchor="middle">2.5</text>
<line x1="631.01" y1="378.77" x2="631.01" y2="379.97" stroke="#7f7f7f" stroke-width="0.5"/>
<text transform="translate(631.01,385.72) scale(0.0950,0.1)" font-size="61.0" text-anchor="middle">5.0</text>
<line x1="640.37" y1="378.77" x2="640.37" y2="379.97" stroke="#7f7f7f" stroke-width="0.5"/>
<text transform="translate(640.37,385.72) scale(0.0950,0.1)" font-size="61.0" text-anchor="middle">7.5</text>
<path d="M71.5,7.3V0.5H163.5V7.3" fill="none" stroke="#8a8a8a" stroke-width="0.7"/>
<line x1="71.5" y1="7.3" x2="163.5" y2="7.3" stroke="#a8a8a8" stroke-width="0.7"/>
<text transform="translate(117.50,6.30) scale(0.0950,0.1)" font-size="61.0" text-anchor="middle" style="fill:#1A1A1A;stroke:#1A1A1A">Asian</text>
<path d="M167.7,7.3V0.5H199.7V7.3" fill="none" stroke="#8a8a8a" stroke-width="0.7"/>
<line x1="167.7" y1="7.3" x2="199.7" y2="7.3" stroke="#a8a8a8" stroke-width="0.7"/>
<text transform="translate(183.70,6.30) scale(0.0950,0.1)" font-size="61.0" text-anchor="middle" style="fill:#1A1A1A;stroke:#1A1A1A">Black</text>
<path d="M203.6,7.3V0.5H219.6V7.3" fill="none" stroke="#8a8a8a" stroke-width="0.7"/>
<line x1="203.6" y1="7.3" x2="219.6" y2="7.3" stroke="#a8a8a8" stroke-width="0.7"/>
<text transform="translate(211.60,6.30) scale(0.0950,0.1)" font-size="61.0" text-anchor="middle" style="fill:#1A1A1A;stroke:#1A1A1A">Mixed</text>
<path d="M223.3,7.3V0.5H606.7V7.3" fill="none" stroke="#8a8a8a" stroke-width="0.7"/>
<line x1="223.3" y1="7.3" x2="606.7" y2="7.3" stroke="#a8a8a8" stroke-width="0.7"/>
<text transform="translate(415.00,6.30) scale(0.0950,0.1)" font-size="61.0" text-anchor="middle" style="fill:#1A1A1A;stroke:#1A1A1A">White</text>
<path d="M610.8,7.3V0.5H647.6V7.3" fill="none" stroke="#8a8a8a" stroke-width="0.7"/>
<line x1="610.8" y1="7.3" x2="647.6" y2="7.3" stroke="#a8a8a8" stroke-width="0.7"/>
<text transform="translate(629.20,6.30) scale(0.0950,0.1)" font-size="61.0" text-anchor="middle" style="fill:#1A1A1A;stroke:#1A1A1A">Other</text>
<path d="M647.7,8.30H684.2V19.25H647.7" fill="none" stroke="#8a8a8a" stroke-width="0.7"/>
<line x1="648.0500000000001" y1="8.30" x2="648.0500000000001" y2="19.25" stroke="#a8a8a8" stroke-width="0.7"/>
<text transform="translate(665.95,15.75) scale(0.0950,0.1)" font-size="61.0" text-anchor="middle" style="fill:#1A1A1A;stroke:#1A1A1A">All</text>
<path d="M647.7,23.54H684.2V100.99H647.7" fill="none" stroke="#8a8a8a" stroke-width="0.7"/>
<line x1="648.0500000000001" y1="23.54" x2="648.0500000000001" y2="100.99" stroke="#a8a8a8" stroke-width="0.7"/>
<text transform="translate(665.95,61.24) scale(0.0950,0.1)" font-size="61.0" text-anchor="middle" style="fill:#1A1A1A;stroke:#1A1A1A">Age</text>
<text transform="translate(665.95,67.24) scale(0.0950,0.1)" font-size="61.0" text-anchor="middle" style="fill:#1A1A1A;stroke:#1A1A1A">Band</text>
<path d="M647.7,105.28H684.2V125.73H647.7" fill="none" stroke="#8a8a8a" stroke-width="0.7"/>
<line x1="648.0500000000001" y1="105.28" x2="648.0500000000001" y2="125.73" stroke="#a8a8a8" stroke-width="0.7"/>
<text transform="translate(665.95,117.48) scale(0.0950,0.1)" font-size="61.0" text-anchor="middle" style="fill:#1A1A1A;stroke:#1A1A1A">Sex</text>
<path d="M647.7,130.02H684.2V216.97H647.7" fill="none" stroke="#8a8a8a" stroke-width="0.7"/>
<line x1="648.0500000000001" y1="130.02" x2="648.0500000000001" y2="216.97" stroke="#a8a8a8" stroke-width="0.7"/>
<text transform="translate(665.95,175.47) scale(0.0950,0.1)" font-size="61.0" text-anchor="middle" style="fill:#1A1A1A;stroke:#1A1A1A">Region</text>
<path d="M647.7,221.26H684.2V279.71H647.7" fill="none" stroke="#8a8a8a" stroke-width="0.7"/>
<line x1="648.0500000000001" y1="221.26" x2="648.0500000000001" y2="279.71" stroke="#a8a8a8" stroke-width="0.7"/>
<text transform="translate(665.95,252.46) scale(0.0950,0.1)" font-size="61.0" text-anchor="middle" style="fill:#1A1A1A;stroke:#1A1A1A">IMD</text>
<path d="M647.7,284.00H684.2V304.45H647.7" fill="none" stroke="#8a8a8a" stroke-width="0.7"/>
<line x1="648.0500000000001" y1="284.00" x2="648.0500000000001" y2="304.45" stroke="#a8a8a8" stroke-width="0.7"/>
<text transform="translate(665.95,296.20) scale(0.0950,0.1)" font-size="61.0" text-anchor="middle" style="fill:#1A1A1A;stroke:#1A1A1A">Dementia</text>
<path d="M647.7,308.74H684.2V329.19H647.7" fill="none" stroke="#8a8a8a" stroke-width="0.7"/>
<line x1="648.0500000000001" y1="308.74" x2="648.0500000000001" y2="329.19" stroke="#a8a8a8" stroke-width="0.7"/>
<text transform="translate(665.95,320.94) scale(0.0950,0.1)" font-size="61.0" text-anchor="middle" style="fill:#1A1A1A;stroke:#1A1A1A">Diabetes</text>
<path d="M647.7,333.48H684.2V353.93H647.7" fill="none" stroke="#8a8a8a" stroke-width="0.7"/>
<line x1="648.0500000000001" y1="333.48" x2="648.0500000000001" y2="353.93" stroke="#a8a8a8" stroke-width="0.7"/>
<text transform="translate(665.95,345.68) scale(0.0950,0.1)" font-size="61.0" text-anchor="middle" style="fill:#1A1A1A;stroke:#1A1A1A">Hypertension</text>
<path d="M647.7,358.22H684.2V378.67H647.7" fill="none" stroke="#8a8a8a" stroke-width="0.7"/>
<line x1="648.0500000000001" y1="358.22" x2="648.0500000000001" y2="378.67" stroke="#a8a8a8" stroke-width="0.7"/>
<text transform="translate(665.95,367.42) scale(0.0950,0.1)" font-size="61.0" text-anchor="middle" style="fill:#1A1A1A;stroke:#1A1A1A">Learning</text>
<text transform="translate(665.95,373.42) scale(0.0950,0.1)" font-size="61.0" text-anchor="middle" style="fill:#1A1A1A;stroke:#1A1A1A">Disability</text>
<text transform="translate(359.60,399.60) scale(0.1000,0.1)" font-size="73.0" text-anchor="middle" style="fill:#000;stroke:#000">Proportion of registered TPP patients</text>
<rect x="273" y="404.9" width="4" height="5.4" fill="#DEDEDE"/>
<text transform="translate(280.80,409.90) scale(0.0950,0.1)" font-size="61.5" text-anchor="start" style="fill:#000;stroke:#000">SNOMED:2022 supplemented with SUS data</text>
<rect x="402.2" y="405.0" width="3.8" height="5.4" fill="#474747"/>
<text transform="translate(409.80,409.90) scale(0.0950,0.1)" font-size="60.5" text-anchor="start" style="fill:#000;stroke:#000">SNOMED:2022</text>
</svg>
</body></html>
